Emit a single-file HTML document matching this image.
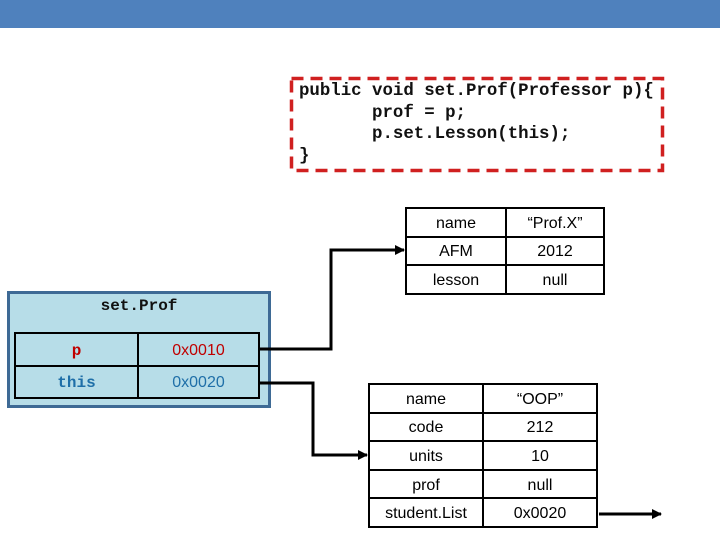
<!DOCTYPE html><html><head><style>
body{margin:0;width:720px;height:540px;position:relative;background:#fff;overflow:hidden;font-family:"Liberation Sans",sans-serif}
.a{position:absolute}
.m{font-family:"Liberation Mono",monospace;font-weight:bold}
table{border-collapse:collapse;position:absolute}
td{border:2px solid #000;text-align:center;padding:3px 0 0 0;font-size:16px}
</style></head><body>
<div class="a" style="left:0;top:0;width:720px;height:28px;background:#4f81bd"></div>
<pre class="a m" style="left:299px;top:81px;margin:0;font-size:17.4px;line-height:21.7px;color:#111">public void set.Prof(Professor p){
       prof = p;
       p.set.Lesson(this);
}</pre>
<table style="left:405px;top:207px;width:200px;height:88px"><tr><td style="width:98px">name</td><td>“Prof.X”</td></tr><tr><td>AFM</td><td>2012</td></tr><tr><td>lesson</td><td>null</td></tr></table>
<div class="a" style="left:7px;top:291px;width:258px;height:111px;background:#b7dde8;border:3px solid #3e6a95"></div>
<div class="a m" style="left:8px;top:297px;width:262px;text-align:center;font-size:16px;color:#111">set.Prof</div>
<table style="left:14px;top:332px;width:246px;height:67px;background:#b7dde8"><tr><td class="m" style="width:121px;color:#c00000">p</td><td style="color:#c00000">0x0010</td></tr><tr><td class="m" style="color:#1f6fa8">this</td><td style="color:#1f6fa8">0x0020</td></tr></table>
<table style="left:368px;top:383px;width:230px;height:145px"><tr><td style="width:112px">name</td><td>“OOP”</td></tr><tr><td>code</td><td>212</td></tr><tr><td>units</td><td>10</td></tr><tr><td>prof</td><td>null</td></tr><tr><td>student.List</td><td>0x0020</td></tr></table>
<svg class="a" style="left:0;top:0" width="720" height="540">
<defs><marker id="ar" markerWidth="10" markerHeight="10" refX="9" refY="5" orient="auto" markerUnits="userSpaceOnUse" viewBox="0 0 10 10"><path d="M0,0L10,5L0,10z" fill="#000"/></marker></defs>
<rect x="291.5" y="78.5" width="371" height="92" fill="none" stroke="#d02020" stroke-width="3.5" stroke-dasharray="12 7"/>
<g fill="none" stroke="#000" stroke-width="3">
<path d="M260 349H331V250H404" marker-end="url(#ar)"/>
<path d="M260 383H313V455H367" marker-end="url(#ar)"/>
<path d="M599 514H661" marker-end="url(#ar)"/>
</g></svg>
</body></html>
